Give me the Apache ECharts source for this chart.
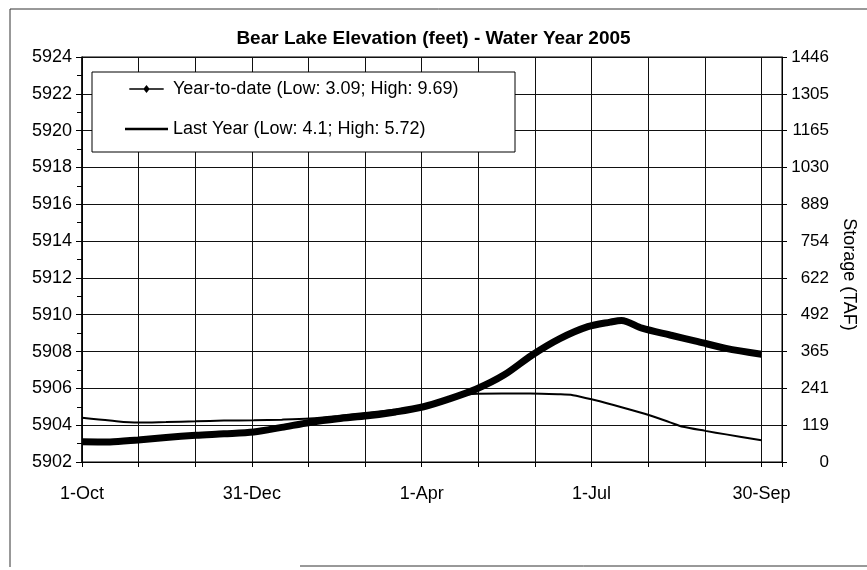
<!DOCTYPE html>
<html>
<head>
<meta charset="utf-8">
<title>Bear Lake Elevation - Water Year 2005</title>
<script src="https://cdn.jsdelivr.net/npm/echarts@6/dist/echarts.min.js"></script>
<style>
  html, body { margin: 0; padding: 0; background: #fff; }
  #chart { width: 867px; height: 570px; }
</style>
</head>
<body>
<div id="chart"></div>
<script>
// day number counted from 1-Oct, elevation in feet
var ytdDays = [0, 15, 30, 45, 61, 76, 92, 107, 122, 137, 153, 168, 183, 196, 211, 226, 241, 256, 271, 283, 289, 300, 315, 330, 345, 364];
var ytdFeet = [5903.1, 5903.09, 5903.2, 5903.33, 5903.45, 5903.53, 5903.63, 5903.88, 5904.15, 5904.35, 5904.51, 5904.72, 5905.0,
  5905.4, 5905.95, 5906.72, 5907.8, 5908.7, 5909.35, 5909.6, 5909.69, 5909.27, 5908.9, 5908.54, 5908.17, 5907.85];

var lastDays = [0, 15, 30, 45, 61, 76, 92, 107, 122, 137, 153, 168, 183, 196, 209, 225, 240, 255, 263, 274, 290, 304, 315, 322, 334, 345, 364];
var lastFeet = [5904.4, 5904.25, 5904.14, 5904.17, 5904.21, 5904.25, 5904.27, 5904.3, 5904.36, 5904.5, 5904.68, 5904.85, 5905.05,
  5905.4, 5905.7, 5905.72, 5905.72, 5905.68, 5905.63, 5905.38, 5904.95, 5904.54, 5904.15, 5903.91, 5903.69, 5903.5, 5903.18];

var xTickDays = [0, 91, 182, 273, 364];
var xTickLabels = ['1-Oct', '31-Dec', '1-Apr', '1-Jul', '30-Sep'];

// right axis labels, bottom to top, one per 2 ft gridline
var storageLabels = ['0', '119', '241', '365', '492', '622', '754', '889', '1030', '1165', '1305', '1446'];

var ytdName = 'Year-to-date (Low: 3.09; High: 9.69)';
var lastName = 'Last Year (Low: 4.1; High: 5.72)';

var FONT = '"Liberation Sans", Arial, sans-serif';

function zip (xs, ys) {
  var out = [];
  for (var i = 0; i < xs.length; i++) {
    out.push([xs[i], ys[i]]);
  }
  return out;
}

var chart = echarts.init(document.getElementById('chart'));

var option = {
  backgroundColor: '#fff',
  animation: false,
  textStyle: { fontFamily: FONT, color: '#000' },
  title: {
    text: 'Bear Lake Elevation (feet) - Water Year 2005',
    left: 'center',
    top: 24,
    textStyle: { fontFamily: FONT, fontSize: 19, fontWeight: 'bold', color: '#000' }
  },
  legend: {
    orient: 'vertical',
    left: 92,
    top: 72,
    backgroundColor: '#fff',
    borderColor: '#000',
    borderWidth: 1,
    borderRadius: 0,
    padding: [7, 30, 13, 33],
    itemGap: 20,
    itemWidth: 43,
    itemHeight: 8,
    textStyle: { fontFamily: FONT, fontSize: 18, color: '#000', width: 312, lineHeight: 20 },
    data: [
      { name: ytdName, icon: 'path://M0,7 L43,7 L43,9 L0,9 Z M21.5,3 L25.5,8 L21.5,13 L17.5,8 Z' },
      { name: lastName, icon: 'path://M0,0 L43,0 L43,2.5 L0,2.5 Z' }
    ]
  },
  grid: {
    left: 82,
    right: 85,
    top: 57,
    bottom: 108,
    show: true,
    borderColor: '#000',
    borderWidth: 1,
    outerBoundsMode: 'none'
  },
  xAxis: {
    type: 'value',
    min: 0,
    max: 375,
    interval: 91 / 3,
    axisLine: { show: true, lineStyle: { color: '#000', width: 1 } },
    axisTick: { show: true, length: 5, lineStyle: { color: '#000' } },
    splitLine: { show: true, lineStyle: { color: '#111', width: 1 } },
    axisLabel: {
      margin: 23,
      fontSize: 18,
      fontFamily: FONT,
      color: '#000',
      formatter: function (v) {
        var i = xTickDays.indexOf(Math.round(v));
        return i >= 0 ? xTickLabels[i] : '';
      }
    }
  },
  yAxis: [
    {
      type: 'value',
      position: 'left',
      min: 5902,
      max: 5924,
      interval: 2,
      axisLine: { show: true, lineStyle: { color: '#000', width: 1.5 } },
      axisTick: { show: true, length: 6, lineStyle: { color: '#000' } },
      minorTick: { show: true, splitNumber: 2, length: 5, lineStyle: { color: '#000' } },
      splitLine: { show: true, lineStyle: { color: '#111', width: 1 } },
      axisLabel: {
        margin: 10,
        fontSize: 18,
        fontFamily: FONT,
        color: '#000',
        formatter: function (v) {
          return String(Math.round(v));
        }
      }
    },
    {
      type: 'value',
      position: 'right',
      min: 5902,
      max: 5924,
      interval: 2,
      name: 'Storage (TAF)',
      nameLocation: 'middle',
      nameRotate: -90,
      nameGap: 58,
      nameMoveOverlap: false,
      nameTextStyle: { fontFamily: FONT, fontSize: 18, color: '#000', padding: [0, 0, 0, 30] },
      axisLine: { show: true, lineStyle: { color: '#000', width: 1 } },
      axisTick: { show: true, length: 5, lineStyle: { color: '#000' } },
      splitLine: { show: false },
      axisLabel: {
        margin: 47,
        align: 'right',
        fontSize: 17,
        fontFamily: FONT,
        color: '#000',
        formatter: function (v) {
          return storageLabels[Math.round((v - 5902) / 2)];
        }
      }
    }
  ],
  series: [
    {
      name: ytdName,
      type: 'line',
      yAxisIndex: 0,
      data: zip(ytdDays, ytdFeet),
      smooth: 0.3,
      symbol: 'none',
      lineStyle: { color: '#000', width: 7 },
      itemStyle: { color: '#000' },
      z: 3
    },
    {
      name: lastName,
      type: 'line',
      yAxisIndex: 0,
      data: zip(lastDays, lastFeet),
      smooth: 0.3,
      symbol: 'none',
      lineStyle: { color: '#000', width: 2 },
      itemStyle: { color: '#000' },
      z: 2
    }
  ],
  graphic: [
    // scanned chart frame: top, left and partial bottom edge
    { type: 'line', silent: true, shape: { x1: 10, y1: 9, x2: 867, y2: 9 }, style: { stroke: '#333', lineWidth: 1 } },
    { type: 'line', silent: true, shape: { x1: 10, y1: 9, x2: 10, y2: 567 }, style: { stroke: '#333', lineWidth: 1 } },
    { type: 'line', silent: true, shape: { x1: 300, y1: 566, x2: 867, y2: 566 }, style: { stroke: '#333', lineWidth: 1 } }
  ]
};

chart.setOption(option);
</script>
</body>
</html>
